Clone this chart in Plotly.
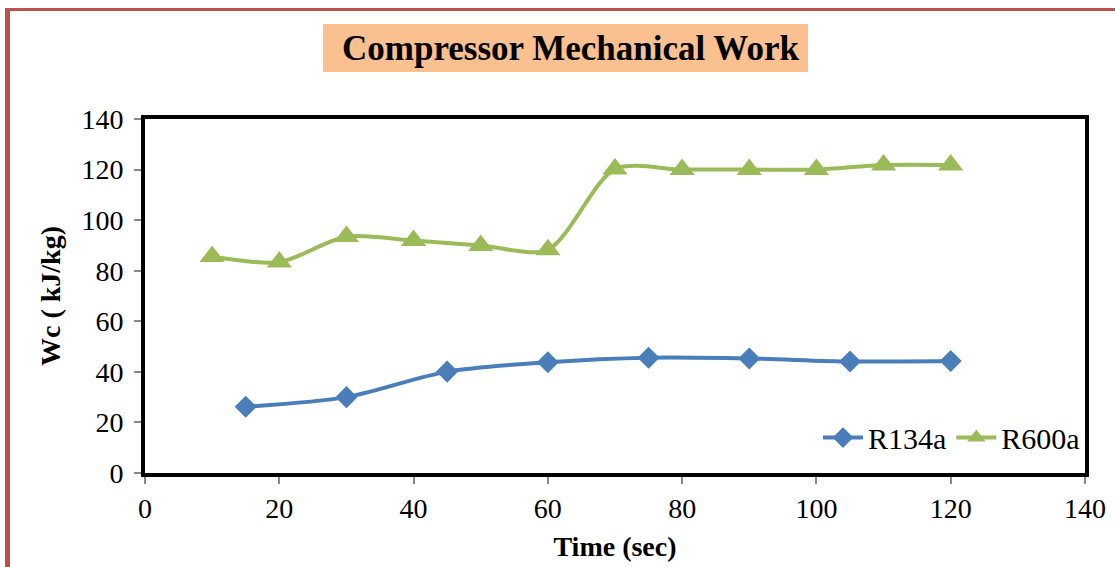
import plotly.graph_objects as go

# Compressor work per refrigerant over time
time_r134a = [15, 30, 45, 60, 75, 90, 105, 120]
wc_r134a = [26.2, 30.0, 40.1, 43.8, 45.6, 45.3, 44.1, 44.3]

time_r600a = [10, 20, 30, 40, 50, 60, 70, 80, 90, 100, 110, 120]
wc_r600a = [85.6, 83.4, 93.5, 91.9, 90.0, 88.3, 120.2, 120.0, 120.0, 120.0, 121.8, 121.8]

x_ticks = list(range(0, 141, 20))
y_ticks = list(range(0, 141, 20))

W, H = 1115, 567
L, R, T, B = 145, 30, 119, 94
PW, PH = W - L - R, H - T - B


def px(x):
    return (x - L) / PW


def py(y):
    return (H - B - y) / PH


FONT = "Liberation Serif, Times New Roman, serif"
BLUE = "#4A7EBB"
GREEN = "#9BBB59"

fig = go.Figure()
fig.add_trace(go.Scatter(
    x=time_r134a, y=wc_r134a, name="R134a", mode="lines+markers",
    line=dict(color=BLUE, width=4, shape="spline", smoothing=0.8),
    marker=dict(symbol="diamond", size=17, color=BLUE),
))
fig.add_trace(go.Scatter(
    x=time_r600a, y=wc_r600a, name="R600a", mode="lines+markers",
    line=dict(color=GREEN, width=4, shape="spline", smoothing=0.8),
    marker=dict(symbol="triangle-up", size=22, color=GREEN),
))

axis_common = dict(
    showgrid=False, zeroline=False, showline=True, mirror=True,
    linecolor="black", linewidth=4,
    ticks="outside", ticklen=7, tickwidth=1.5, tickcolor="#888",
    tickfont=dict(family=FONT, size=28, color="black"),
)

fig.update_layout(
    width=W, height=H,
    margin=dict(l=L, r=R, t=T, b=B, autoexpand=False),
    paper_bgcolor="white", plot_bgcolor="white",
    showlegend=True,
    legend=dict(
        orientation="h", x=1.0, y=0.10, xanchor="right", yanchor="middle",
        bgcolor="rgba(0,0,0,0)", font=dict(family=FONT, size=30, color="black"),
        itemwidth=40, tracegroupgap=0,
    ),
    xaxis=dict(
        range=[0, 140], tickvals=x_ticks, ticktext=[str(v) for v in x_ticks],
        ticklabelstandoff=0,
        title=dict(text="<b>Time (sec)</b>", font=dict(family=FONT, size=28, color="black"), standoff=15),
        automargin=False, **axis_common,
    ),
    yaxis=dict(
        range=[0, 140], tickvals=y_ticks, ticktext=[str(v) for v in y_ticks],
        ticklabelstandoff=5,
        title=dict(text="<b>Wc ( kJ/kg)</b>", font=dict(family=FONT, size=28, color="black"), standoff=14),
        automargin=False, **axis_common,
    ),
    shapes=[
        # chart-area border (red)
        dict(type="line", xref="paper", yref="paper", x0=px(7.5), x1=px(7.5), y0=py(600), y1=py(8),
             line=dict(color="#C0504D", width=5)),
        dict(type="line", xref="paper", yref="paper", x0=px(5), x1=px(1200), y0=py(9.5), y1=py(9.5),
             line=dict(color="#C0504D", width=3)),
        # title background
        dict(type="rect", xref="paper", yref="paper", x0=px(323), x1=px(808), y0=py(72), y1=py(24),
             fillcolor="#FAC090", line=dict(width=0), layer="below"),
    ],
    annotations=[
        dict(text="<b>Compressor Mechanical Work</b>", xref="paper", yref="paper",
             x=px(570), y=py(49), xanchor="center", yanchor="middle", showarrow=False,
             font=dict(family=FONT, size=35, color="black")),
    ],
)

fig.write_html("out.html")
